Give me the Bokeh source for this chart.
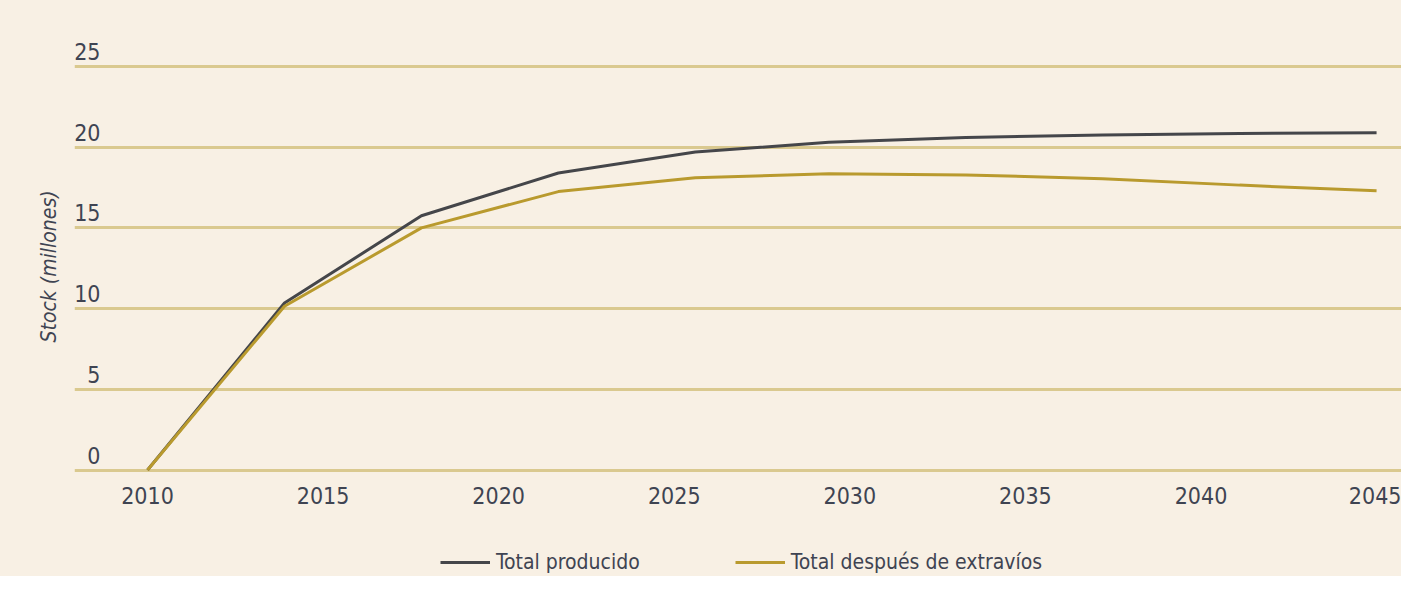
from bokeh.plotting import figure
from bokeh.layouts import column
from bokeh.models import (Range1d, FixedTicker, Legend, LegendItem, Grid, Title)
from bokeh.core.properties import value
from bokeh.embed import file_html
from bokeh.resources import INLINE

# ---- data ----
years = [2010, 2013.9, 2017.8, 2021.7, 2025.6, 2029.4, 2033.3, 2037.2, 2041.1, 2045]
total_producido = [0, 10.35, 15.75, 18.4, 19.7, 20.3, 20.6, 20.75, 20.85, 20.9]
total_despues_extravios = [0, 10.15, 15.0, 17.25, 18.1, 18.35, 18.28, 18.05, 17.65, 17.3]
series_names = ["Total producido", "Total después de extravíos"]
x_tick_values = [2010, 2015, 2020, 2025, 2030, 2035, 2040, 2045]
y_tick_values = [0, 5, 10, 15, 20, 25]
y_tick_labels = ["0", "5", "10", "15", "20", "25"]
y_title = "Stock (millones)"

# ---- style ----
BG = "#f8f0e4"
GRID = "#dac98f"
DARK = "#45464a"
GOLD = "#b99a2e"
TXT = "#3f4452"
FONT = "'Liberation Sans Narrow', 'DejaVu Sans Condensed', sans-serif"

W = 1401
H_MAIN, H_LEG = 536, 40
X0, X1 = 2007.92, 2045.71
Y0, Y1 = -0.34, 26.61
p = figure(width=W, height=H_MAIN, output_backend="svg", toolbar_location=None,
           x_range=Range1d(X0, X1), y_range=Range1d(Y0, Y1),
           y_axis_location=None,
           min_border_left=74, min_border_right=0, min_border_top=40,
           min_border_bottom=61)
p.background_fill_color = BG
p.border_fill_color = BG
p.outline_line_color = None
for g in p.grid:
    g.visible = False

p.add_layout(Grid(dimension=1, ticker=FixedTicker(ticks=y_tick_values),
                  grid_line_color=GRID, grid_line_width=3))

# x axis
xa = p.xaxis[0]
xa.ticker = FixedTicker(ticks=x_tick_values)
xa.axis_line_color = None
xa.major_tick_line_color = None
xa.minor_tick_line_color = None
xa.major_label_standoff = 5
xa.major_label_text_font = FONT
xa.major_label_text_font_size = "23px"
xa.major_label_text_color = TXT

# y tick labels sit just above their grid lines, inside the frame
p.text(x=[X0] * len(y_tick_values), y=y_tick_values, text=y_tick_labels,
       x_offset=26, y_offset=-15, text_align="right", text_baseline="middle",
       text_font=value(FONT), text_font_size=value("23px"), text_color=TXT)

# lines
r1 = p.line(years, total_producido, line_color=DARK, line_width=3)
r2 = p.line(years, total_despues_extravios, line_color=GOLD, line_width=3)

# y axis title
p.add_layout(Title(text=y_title, align="left", offset=133, standoff=27,
                   text_font=FONT, text_font_size="21px",
                   text_font_style="italic", text_color=TXT), "left")

# legend in a slim strip below the chart (its lines fall outside the strip's view)
q = figure(width=W, height=H_LEG, output_backend="svg", toolbar_location=None,
           x_range=Range1d(0, 1), y_range=Range1d(0, 1),
           x_axis_location=None, y_axis_location=None,
           min_border_left=0, min_border_right=0, min_border_top=0,
           min_border_bottom=0)
q.background_fill_color = BG
q.border_fill_color = BG
q.outline_line_color = None
for g in q.grid:
    g.visible = False
l1 = q.line(years, total_producido, line_color=DARK, line_width=3)
l2 = q.line(years, total_despues_extravios, line_color=GOLD, line_width=3)

legend = Legend(items=[LegendItem(label=series_names[0], renderers=[l1]),
                       LegendItem(label=series_names[1], renderers=[l2])],
                orientation="horizontal", location=(366, 2),
                glyph_width=50, glyph_height=20, label_standoff=6, spacing=95,
                padding=5, margin=0, border_line_color=None,
                background_fill_alpha=0, label_text_font=FONT,
                label_text_font_size="21px", label_text_color=TXT)
q.add_layout(legend, "center")

layout = column(p, q, spacing=0, styles={"background-color": BG})
open("out.html", "w").write(file_html(layout, INLINE))
